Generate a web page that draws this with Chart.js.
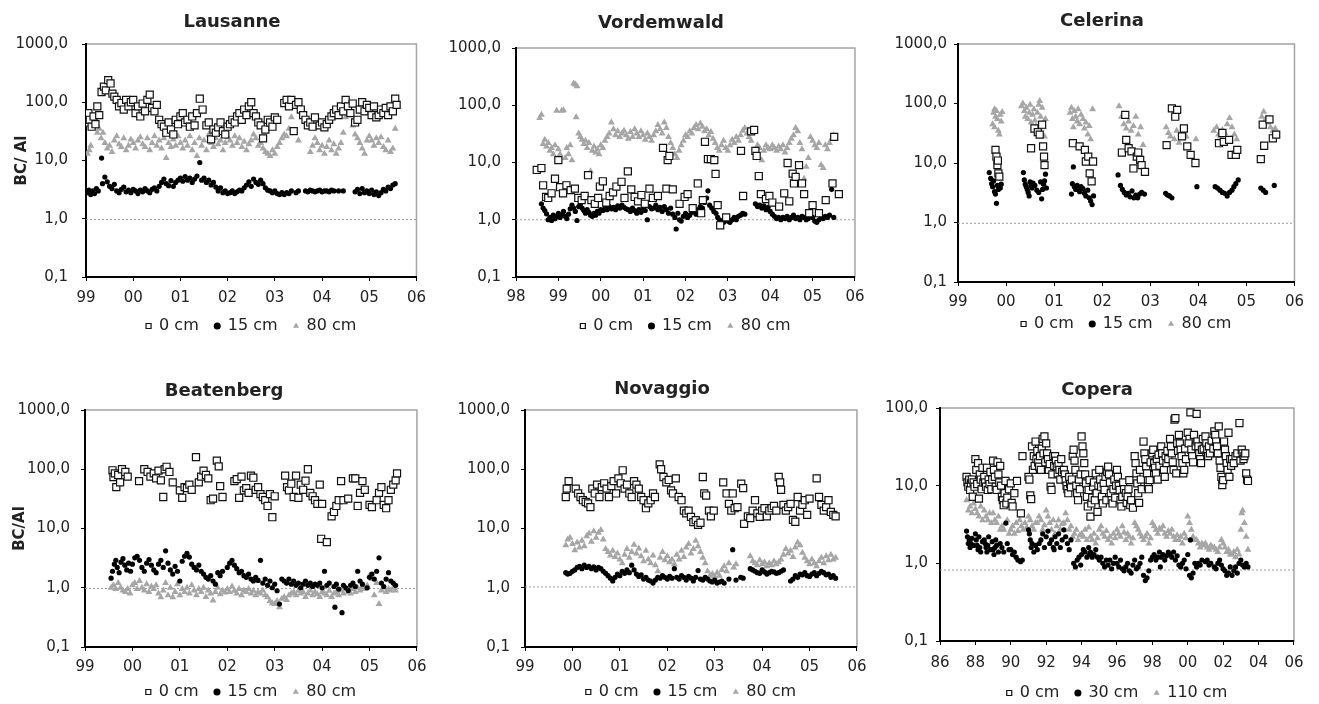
<!DOCTYPE html>
<html>
<head>
<meta charset="utf-8">
<title>BC/Al</title>
<script src="https://cdn.jsdelivr.net/npm/chart.js"></script>
<style>
  body { margin: 0; background: #fff; }
  #page { position: relative; width: 1319px; height: 704px; overflow: hidden; }
  .panel { position: absolute; }
  .panel canvas { display: block; }
  .ttl { position: absolute; width: 200px; text-align: center; font: bold 18px "DejaVu Sans", sans-serif; line-height: 22px; color: #222; }
</style>
</head>
<body>
<div id="page"></div>
<script>
// values: [year (years since 1900), BC/Al]
const lauSq = [[99.02,45],[99.05,65],[99.08,50],[99.12,38],[99.16,57],[99.2,42],[99.24,85],[99.28,60],[99.33,150],[99.38,185],[99.42,160],[99.47,240],[99.52,210],[99.56,140],[99.6,125],[99.65,110],[99.7,85],[99.75,97],[99.8,75],[99.85,110],[99.9,85],[99.95,100],[100.0,110],[100.05,65],[100.1,85],[100.15,57],[100.2,95],[100.25,70],[100.3,110],[100.35,135],[100.4,80],[100.45,70],[100.5,90],[100.55,50],[100.6,42],[100.65,38],[100.7,30],[100.75,45],[100.8,34],[100.85,28],[100.9,50],[100.95,42],[101.0,57],[101.05,65],[101.1,45],[101.15,50],[101.2,38],[101.25,57],[101.3,40],[101.35,65],[101.41,115],[101.47,75],[101.55,40],[101.6,45],[101.65,23],[101.7,34],[101.75,30],[101.8,37],[101.85,45],[101.9,32],[101.95,28],[102.0,38],[102.05,42],[102.1,50],[102.15,45],[102.2,57],[102.25,65],[102.3,50],[102.35,75],[102.4,60],[102.45,85],[102.5,100],[102.55,65],[102.6,57],[102.65,45],[102.7,40],[102.75,24],[102.8,34],[102.85,50],[102.9,45],[102.95,38],[103.0,55],[103.05,50],[103.2,97],[103.25,110],[103.3,85],[103.35,110],[103.4,32],[103.45,90],[103.5,100],[103.55,75],[103.6,60],[103.65,50],[103.7,40],[103.75,45],[103.8,38],[103.85,55],[103.95,40],[104.0,45],[104.05,37],[104.1,42],[104.15,50],[104.2,57],[104.25,65],[104.3,75],[104.35,60],[104.4,85],[104.45,70],[104.5,110],[104.55,85],[104.6,65],[104.65,95],[104.7,45],[104.75,50],[104.8,75],[104.85,100],[104.9,70],[104.95,90],[105.0,80],[105.05,60],[105.1,85],[105.15,55],[105.2,60],[105.25,75],[105.3,65],[105.35,80],[105.4,60],[105.45,85],[105.5,70],[105.55,115],[105.58,90]];
const lauDot = [[99.02,2.8],[99.06,3.1],[99.1,2.6],[99.14,3.0],[99.18,2.7],[99.22,3.3],[99.26,3.0],[99.33,11],[99.35,4.0],[99.4,5.2],[99.45,4.3],[99.5,3.6],[99.55,3.3],[99.6,3.9],[99.65,3.0],[99.7,2.8],[99.75,3.2],[99.8,3.5],[99.85,2.9],[99.9,3.1],[99.95,2.8],[100.0,3.2],[100.05,3.0],[100.1,2.7],[100.15,3.1],[100.2,2.9],[100.25,3.3],[100.3,3.0],[100.35,2.8],[100.4,3.2],[100.45,3.4],[100.5,3.0],[100.55,3.6],[100.6,4.2],[100.65,4.8],[100.7,4.0],[100.75,3.7],[100.8,4.5],[100.85,3.6],[100.9,4.2],[100.95,4.6],[101.0,5.0],[101.05,4.4],[101.1,5.3],[101.15,4.6],[101.2,5.0],[101.25,4.2],[101.3,4.8],[101.35,5.4],[101.41,9.2],[101.45,4.6],[101.5,5.0],[101.55,4.2],[101.6,4.6],[101.65,3.8],[101.7,4.2],[101.75,3.5],[101.8,3.0],[101.85,3.4],[101.9,2.8],[101.95,3.0],[102.0,2.7],[102.05,2.8],[102.1,3.0],[102.15,2.7],[102.2,2.9],[102.25,3.1],[102.3,3.0],[102.35,3.4],[102.4,3.8],[102.45,4.3],[102.5,3.6],[102.55,4.8],[102.6,4.2],[102.65,3.9],[102.7,4.6],[102.75,4.0],[102.8,3.4],[102.85,3.1],[102.9,3.0],[102.95,2.8],[103.0,3.0],[103.05,2.7],[103.1,2.6],[103.15,2.8],[103.2,2.6],[103.25,2.8],[103.3,2.7],[103.35,3.0],[103.45,2.8],[103.5,3.0],[103.65,3.0],[103.7,2.9],[103.75,3.1],[103.8,3.0],[103.85,2.9],[103.9,3.0],[103.95,3.1],[104.0,2.9],[104.05,3.0],[104.1,3.0],[104.15,2.9],[104.2,3.1],[104.25,3.0],[104.35,3.0],[104.45,3.0],[104.7,2.9],[104.75,3.2],[104.8,2.7],[104.85,3.3],[104.9,2.8],[104.95,3.0],[105.0,2.7],[105.05,3.1],[105.1,2.6],[105.15,2.9],[105.2,2.5],[105.25,2.8],[105.3,3.2],[105.35,3.0],[105.4,3.5],[105.45,3.3],[105.5,3.8],[105.55,4.0]];
const lauTri = [[99.03,13],[99.07,15],[99.1,18],[99.13,42],[99.17,45],[99.2,38],[99.24,30],[99.28,35],[99.32,24],[99.36,30],[99.4,20],[99.45,16],[99.5,18],[99.55,14],[99.6,22],[99.65,26],[99.7,19],[99.75,17],[99.8,24],[99.85,15],[99.9,18],[99.95,23],[100.0,20],[100.05,16],[100.1,22],[100.15,25],[100.2,19],[100.25,17],[100.3,24],[100.35,15],[100.4,20],[100.45,26],[100.5,18],[100.55,22],[100.6,16],[100.65,24],[100.7,11],[100.75,20],[100.8,17],[100.85,23],[100.9,18],[100.95,26],[101.0,20],[101.05,16],[101.1,22],[101.15,18],[101.2,26],[101.25,15],[101.3,20],[101.35,12],[101.4,24],[101.45,18],[101.5,22],[101.55,15],[101.6,28],[101.65,20],[101.7,17],[101.75,24],[101.8,19],[101.85,22],[101.9,15],[101.95,20],[102.0,25],[102.05,22],[102.1,18],[102.15,26],[102.2,20],[102.25,24],[102.3,17],[102.35,21],[102.4,15],[102.45,19],[102.5,22],[102.55,28],[102.6,24],[102.65,18],[102.7,20],[102.75,16],[102.8,14],[102.85,13],[102.9,12],[102.95,15],[103.0,13],[103.05,17],[103.1,20],[103.15,24],[103.2,28],[103.25,26],[103.3,35],[103.35,55],[103.4,30],[103.5,22],[103.75,14],[103.8,18],[103.85,24],[103.9,20],[103.95,15],[104.0,18],[104.05,13],[104.1,17],[104.15,22],[104.2,15],[104.25,19],[104.3,13],[104.35,16],[104.4,20],[104.45,30],[104.5,55],[104.55,110],[104.6,90],[104.65,40],[104.7,28],[104.75,24],[104.8,20],[104.85,16],[104.9,13],[104.95,22],[105.0,26],[105.05,22],[105.1,18],[105.15,24],[105.2,20],[105.25,25],[105.3,17],[105.35,15],[105.4,22],[105.45,14],[105.5,16],[105.55,35]];

const vorSq = [[98.49,7.4],[98.6,8],[98.64,4.0],[98.71,2.5],[98.76,2.4],[98.84,2.9],[98.92,5.2],[99.0,11],[99.04,3.7],[99.11,2.9],[99.19,4.0],[99.29,3.3],[99.39,3.5],[99.47,2.4],[99.55,2.2],[99.62,2.6],[99.7,6.0],[99.78,2.2],[99.86,1.9],[99.94,2.4],[99.98,3.8],[100.05,4.7],[100.13,2.0],[100.21,2.6],[100.29,3.0],[100.37,3.8],[100.49,4.6],[100.56,2.4],[100.64,7.0],[100.72,3.4],[100.8,2.5],[100.88,2.1],[100.96,2.7],[101.04,1.9],[101.15,3.5],[101.23,2.4],[101.35,2.6],[101.47,18],[101.55,3.5],[101.58,11],[101.62,13],[101.7,3.4],[101.86,1.9],[101.98,2.5],[102.05,2.8],[102.17,1.6],[102.29,4.3],[102.37,1.3],[102.41,2.2],[102.46,23],[102.53,11.5],[102.6,11.5],[102.68,11],[102.71,6.3],[102.76,1.8],[102.82,0.8],[102.96,1.1],[103.31,16],[103.36,2.6],[103.55,35],[103.62,37],[103.65,16],[103.68,13],[103.73,5.8],[103.78,2.8],[103.9,2.3],[103.98,2.6],[104.05,2.0],[104.21,1.7],[104.33,2.9],[104.41,9.8],[104.45,2.1],[104.53,6.4],[104.56,4.3],[104.6,5.6],[104.68,9.0],[104.75,4.3],[104.8,2.8],[104.92,1.3],[105.0,1.8],[105.15,1.3],[105.31,2.2],[105.47,4.3],[105.51,28],[105.62,2.8]];
const vorDot = [[98.6,1.9],[98.64,1.6],[98.68,1.45],[98.72,1.27],[98.76,1.0],[98.8,1.1],[98.84,0.97],[98.88,1.2],[98.92,1.04],[98.96,1.15],[99.0,1.3],[99.04,1.1],[99.08,1.2],[99.12,1.4],[99.16,1.15],[99.2,1.05],[99.24,1.25],[99.28,1.55],[99.32,1.8],[99.36,1.6],[99.4,1.4],[99.44,0.97],[99.48,1.7],[99.52,1.9],[99.56,1.6],[99.6,1.45],[99.64,1.3],[99.68,1.5],[99.72,1.35],[99.76,1.2],[99.8,1.15],[99.84,1.3],[99.88,1.2],[99.92,1.4],[99.96,1.3],[100.0,1.5],[100.05,1.45],[100.1,1.6],[100.15,1.5],[100.2,1.7],[100.25,1.55],[100.3,1.65],[100.35,1.5],[100.4,1.75],[100.45,1.6],[100.5,1.8],[100.55,1.65],[100.6,1.55],[100.65,1.5],[100.7,1.4],[100.75,1.6],[100.8,1.45],[100.85,1.3],[100.9,1.5],[100.95,1.35],[101.0,1.6],[101.05,1.45],[101.1,1.0],[101.15,1.7],[101.2,1.55],[101.25,1.6],[101.3,1.8],[101.35,1.5],[101.4,1.65],[101.45,1.4],[101.5,1.7],[101.55,1.5],[101.6,1.3],[101.65,1.6],[101.7,1.25],[101.75,1.1],[101.78,0.69],[101.82,1.3],[101.86,1.0],[101.9,0.95],[101.95,1.15],[102.0,1.3],[102.05,1.1],[102.1,1.2],[102.15,1.35],[102.2,1.4],[102.25,1.25],[102.3,1.5],[102.35,1.7],[102.4,1.6],[102.45,2.0],[102.5,2.4],[102.53,3.2],[102.57,1.8],[102.62,1.6],[102.67,1.4],[102.72,1.3],[102.76,1.1],[102.8,1.0],[102.85,0.95],[102.9,0.9],[102.95,1.05],[103.0,0.95],[103.05,0.9],[103.1,1.0],[103.15,1.1],[103.2,1.0],[103.25,1.15],[103.3,1.2],[103.35,1.3],[103.4,1.25],[103.65,1.9],[103.7,1.7],[103.75,1.8],[103.8,1.6],[103.85,1.75],[103.9,1.5],[103.95,1.65],[104.0,1.4],[104.05,1.25],[104.1,1.15],[104.15,1.05],[104.2,1.1],[104.25,1.0],[104.3,1.1],[104.35,1.05],[104.4,1.15],[104.45,1.0],[104.5,1.1],[104.55,1.2],[104.6,1.05],[104.65,1.1],[104.7,1.0],[104.75,1.15],[104.8,1.1],[104.85,1.0],[104.9,1.05],[104.95,1.2],[105.0,1.1],[105.05,0.95],[105.1,0.9],[105.15,1.0],[105.2,1.1],[105.25,1.05],[105.3,1.15],[105.35,1.1],[105.4,1.2],[105.45,3.4],[105.5,1.1]];
const vorTri = [[98.56,60],[98.6,68],[98.64,21],[98.68,25],[98.72,19],[98.76,22],[98.8,16],[98.84,18],[98.88,14],[98.92,20],[98.96,80],[99.0,17],[99.04,14],[99.08,80],[99.12,82],[99.16,12],[99.2,18],[99.24,14],[99.28,20],[99.32,11],[99.36,240],[99.4,230],[99.44,215],[99.42,62],[99.48,32],[99.52,28],[99.56,25],[99.6,21],[99.64,24],[99.68,18],[99.72,22],[99.76,7],[99.8,16],[99.84,19],[99.88,15],[99.92,17],[99.96,14],[100.0,20],[100.05,18],[100.1,24],[100.15,28],[100.2,32],[100.25,50],[100.3,38],[100.35,30],[100.4,35],[100.45,28],[100.5,32],[100.55,36],[100.6,30],[100.65,26],[100.7,34],[100.75,28],[100.8,38],[100.85,32],[100.9,28],[100.95,35],[101.0,30],[101.05,25],[101.1,32],[101.15,28],[101.2,24],[101.25,30],[101.3,35],[101.35,45],[101.4,38],[101.45,32],[101.5,50],[101.55,40],[101.6,28],[101.65,22],[101.7,18],[101.75,14],[101.8,12],[101.85,16],[101.9,20],[101.95,24],[102.0,30],[102.05,28],[102.1,35],[102.15,32],[102.2,40],[102.25,45],[102.3,38],[102.35,48],[102.4,42],[102.45,35],[102.5,38],[102.55,30],[102.6,34],[102.65,26],[102.7,22],[102.75,18],[102.8,16],[102.85,20],[102.9,24],[102.95,18],[103.0,16],[103.05,20],[103.1,25],[103.15,22],[103.2,28],[103.25,24],[103.3,30],[103.35,36],[103.4,40],[103.45,32],[103.5,28],[103.55,24],[103.7,20],[103.75,18],[103.8,11],[103.85,16],[103.9,20],[103.95,18],[104.0,17],[104.05,20],[104.1,18],[104.15,16],[104.2,19],[104.25,17],[104.3,20],[104.35,15],[104.4,18],[104.45,22],[104.5,26],[104.55,30],[104.6,40],[104.65,35],[104.7,22],[104.75,17],[104.8,5.2],[104.85,8.4],[104.9,12],[104.95,28],[105.0,24],[105.05,20],[105.1,18],[105.15,22],[105.2,9],[105.25,8],[105.3,20],[105.35,17],[105.4,22],[105.45,26],[105.5,30]];

const celSq = [[99.78,16.6],[99.8,12.8],[99.82,9.2],[99.84,6.7],[99.86,5.9],[99.83,11],[100.52,17.7],[100.59,38],[100.66,33],[100.7,30],[100.75,44],[100.77,19],[100.79,12.8],[100.8,9.2],[101.39,21.5],[101.53,19],[101.64,16.6],[101.66,10.6],[101.71,12.8],[101.74,6.7],[101.78,4.9],[101.81,10.6],[102.41,15],[102.48,64.5],[102.5,24.5],[102.55,17.7],[102.61,15.7],[102.65,8.1],[102.72,12.8],[102.75,15],[102.79,11.3],[102.82,9.2],[102.89,7.1],[103.34,20],[103.45,83],[103.52,60],[103.56,78],[103.66,28],[103.7,38],[103.77,19],[103.84,13.7],[103.94,10],[104.43,21.5],[104.5,32],[104.53,22.7],[104.64,24.5],[104.69,13.7],[104.78,13.7],[104.81,16.6],[105.3,11.6],[105.34,44],[105.37,19.5],[105.48,54],[105.55,26],[105.62,30]];
const celDot = [[99.65,6.9],[99.68,5.5],[99.7,4.5],[99.72,4.0],[99.74,5.0],[99.76,3.3],[99.78,3.0],[99.8,2.1],[99.82,4.2],[99.84,3.6],[99.86,4.0],[99.88,3.8],[99.9,4.4],[100.36,6.9],[100.38,5.2],[100.4,4.4],[100.42,4.0],[100.44,3.6],[100.46,3.2],[100.48,2.8],[100.5,4.8],[100.52,4.2],[100.54,3.8],[100.56,4.6],[100.6,4.2],[100.64,3.5],[100.68,3.2],[100.72,4.8],[100.74,2.5],[100.76,3.6],[100.78,4.4],[100.8,5.0],[100.82,6.5],[100.84,3.8],[101.36,3.0],[101.38,4.5],[101.4,8.6],[101.42,4.0],[101.45,3.6],[101.48,4.2],[101.5,3.8],[101.53,3.3],[101.56,4.0],[101.6,3.7],[101.63,3.1],[101.66,2.8],[101.7,3.5],[101.73,2.6],[101.76,2.3],[101.79,2.0],[101.82,2.8],[102.33,6.3],[102.38,4.2],[102.42,3.6],[102.46,3.2],[102.5,2.9],[102.54,3.1],[102.58,2.7],[102.62,3.4],[102.66,2.6],[102.7,2.9],[102.74,2.6],[102.78,3.0],[102.82,3.2],[102.88,3.0],[103.32,3.1],[103.36,2.9],[103.4,2.8],[103.45,2.6],[103.97,4.0],[104.35,4.0],[104.4,3.8],[104.45,3.5],[104.5,3.2],[104.55,3.1],[104.6,2.8],[104.65,3.2],[104.7,3.5],[104.74,4.0],[104.78,4.5],[104.83,5.2],[105.3,3.8],[105.35,3.5],[105.4,3.2],[105.58,4.2]];
const celTri = [[99.72,45],[99.74,70],[99.76,80],[99.78,60],[99.8,75],[99.82,55],[99.84,35],[99.86,30],[99.88,65],[99.9,50],[99.92,72],[99.76,40],[100.32,90],[100.35,100],[100.38,75],[100.4,60],[100.42,85],[100.45,55],[100.48,70],[100.5,95],[100.52,48],[100.55,65],[100.58,80],[100.6,52],[100.62,42],[100.65,70],[100.68,95],[100.7,110],[100.72,60],[100.75,85],[100.78,40],[100.8,28],[100.82,55],[101.33,70],[101.36,85],[101.38,55],[101.4,40],[101.42,75],[101.45,60],[101.48,50],[101.5,80],[101.53,45],[101.56,65],[101.6,55],[101.63,38],[101.66,48],[101.7,30],[101.73,42],[101.76,25],[101.8,80],[102.35,90],[102.4,60],[102.45,45],[102.5,38],[102.55,50],[102.6,35],[102.65,42],[102.7,60],[102.75,30],[102.8,40],[102.85,20],[103.33,40],[103.38,32],[103.42,28],[103.5,25],[103.55,35],[103.6,22],[103.65,30],[103.75,28],[103.95,25],[104.32,35],[104.38,40],[104.42,30],[104.46,28],[104.5,36],[104.55,32],[104.6,45],[104.65,57],[104.7,40],[104.75,30],[104.8,25],[105.32,60],[105.36,73],[105.4,55],[105.45,48],[105.5,40],[105.55,35],[105.6,38]];

const beaSq = [[99.58,96],[99.6,74],[99.63,85],[99.66,50],[99.7,80],[99.74,60],[99.78,100],[99.85,90],[99.9,75],[100.14,63],[100.25,100],[100.32,90],[100.38,75],[100.45,85],[100.5,70],[100.55,95],[100.6,65],[100.65,34],[100.68,100],[100.72,110],[100.78,90],[100.85,60],[101.0,44],[101.05,33],[101.1,50],[101.15,48],[101.2,55],[101.25,45],[101.34,160],[101.4,60],[101.45,75],[101.5,95],[101.55,80],[101.6,70],[101.65,30],[101.7,32],[101.78,140],[101.82,112],[101.85,52],[101.9,34],[102.15,63],[102.2,68],[102.25,33],[102.3,75],[102.35,44],[102.4,48],[102.45,40],[102.5,78],[102.55,72],[102.6,45],[102.65,50],[102.7,38],[102.75,34],[102.8,30],[102.85,24],[102.9,38],[102.95,15.5],[103.0,35],[103.22,78],[103.26,50],[103.3,44],[103.35,57],[103.4,34],[103.45,78],[103.5,33],[103.55,55],[103.6,45],[103.65,64],[103.7,100],[103.75,40],[103.8,35],[103.85,30],[103.9,26],[103.95,55],[104.0,26],[103.98,6.7],[104.1,5.9],[104.2,16],[104.25,19],[104.3,24],[104.35,30],[104.4,63],[104.45,30],[104.55,32],[104.65,70],[104.7,70],[104.75,24],[104.8,40],[104.85,63],[104.9,45],[105.0,25],[105.05,23],[105.15,30],[105.2,40],[105.25,50],[105.3,25],[105.35,22],[105.4,30],[105.45,45],[105.5,55],[105.55,65],[105.58,85]];
const beaDot = [[99.55,1.45],[99.58,1.9],[99.62,2.5],[99.65,2.9],[99.68,2.2],[99.72,1.8],[99.76,2.7],[99.8,3.1],[99.84,2.4],[99.88,2.0],[99.92,2.6],[99.96,1.9],[100.0,2.5],[100.05,3.2],[100.1,3.4],[100.15,2.9],[100.2,2.2],[100.25,1.9],[100.3,2.6],[100.35,3.0],[100.4,2.4],[100.45,2.0],[100.5,1.8],[100.55,2.5],[100.6,2.9],[100.65,2.2],[100.7,4.2],[100.75,2.6],[100.8,2.0],[100.85,1.7],[100.9,2.3],[100.95,1.9],[101.0,1.3],[101.05,2.8],[101.1,3.4],[101.15,3.8],[101.2,3.3],[101.25,2.5],[101.3,2.2],[101.35,2.0],[101.4,2.4],[101.45,1.9],[101.5,1.7],[101.55,1.5],[101.6,1.4],[101.65,1.6],[101.7,1.3],[101.75,1.15],[101.8,1.8],[101.85,1.6],[101.9,1.9],[102.0,2.2],[102.05,2.6],[102.1,2.9],[102.15,2.4],[102.2,2.1],[102.25,1.8],[102.3,1.9],[102.35,1.6],[102.4,1.5],[102.45,1.7],[102.5,1.4],[102.55,1.3],[102.6,1.5],[102.65,1.33],[102.7,2.9],[102.75,1.2],[102.8,1.4],[102.85,1.1],[102.9,1.3],[102.95,1.0],[103.0,1.15],[103.05,0.89],[103.1,0.53],[103.15,1.4],[103.2,1.3],[103.25,1.2],[103.3,1.4],[103.35,1.15],[103.4,1.3],[103.45,1.1],[103.5,1.2],[103.55,1.0],[103.6,1.15],[103.65,1.3],[103.7,1.1],[103.75,1.2],[103.8,1.05],[103.85,1.15],[103.9,1.1],[103.95,1.2],[104.0,1.0],[104.05,1.9],[104.1,1.1],[104.15,1.2],[104.27,0.47],[104.25,1.05],[104.3,1.15],[104.35,0.95],[104.42,0.38],[104.45,1.1],[104.5,1.0],[104.55,0.9],[104.6,1.1],[104.65,1.2],[104.7,1.05],[104.75,1.9],[104.8,1.3],[104.85,1.15],[104.95,1.0],[105.0,1.5],[105.05,1.7],[105.1,1.4],[105.15,1.9],[105.2,3.2],[105.25,1.2],[105.3,1.05],[105.35,1.4],[105.4,1.8],[105.45,1.3],[105.5,1.2],[105.55,1.1]];
const beaTri = [[99.55,1.0],[99.6,1.1],[99.65,0.95],[99.7,1.2],[99.75,1.0],[99.8,0.9],[99.85,0.85],[99.9,0.95],[99.95,0.8],[100.0,1.1],[100.05,1.2],[100.1,0.95],[100.15,1.3],[100.2,1.0],[100.25,0.9],[100.3,1.15],[100.35,0.85],[100.4,1.05],[100.45,0.95],[100.5,1.1],[100.55,0.8],[100.6,0.69],[100.65,0.9],[100.7,1.2],[100.75,0.75],[100.8,1.0],[100.85,0.69],[100.9,0.85],[100.95,1.15],[101.0,0.75],[101.05,0.95],[101.1,0.85],[101.15,1.0],[101.2,0.8],[101.25,1.1],[101.3,0.9],[101.35,0.75],[101.4,0.95],[101.45,0.85],[101.5,1.0],[101.55,0.7],[101.6,0.9],[101.65,0.8],[101.7,0.61],[101.75,0.85],[101.8,1.0],[101.85,0.78],[101.9,0.9],[101.95,0.83],[102.0,0.95],[102.05,0.85],[102.1,1.05],[102.15,0.89],[102.2,0.8],[102.25,0.95],[102.3,0.75],[102.35,0.9],[102.4,0.85],[102.45,0.95],[102.5,0.8],[102.55,0.89],[102.6,0.75],[102.65,0.85],[102.7,0.8],[102.75,0.9],[102.8,0.75],[102.85,0.69],[102.9,0.6],[102.95,0.55],[103.0,0.53],[103.05,0.6],[103.1,0.47],[103.15,0.65],[103.2,0.7],[103.25,0.62],[103.3,0.75],[103.35,0.8],[103.4,0.85],[103.45,0.75],[103.5,0.89],[103.55,0.8],[103.6,0.85],[103.65,0.7],[103.7,0.8],[103.75,0.9],[103.8,0.75],[103.85,0.85],[103.9,0.78],[103.95,0.7],[104.0,0.85],[104.05,0.8],[104.1,0.75],[104.15,0.89],[104.2,0.7],[104.25,0.8],[104.3,0.85],[104.35,0.75],[104.4,0.9],[104.45,0.8],[104.5,0.95],[104.55,0.85],[104.6,0.8],[104.65,0.95],[104.7,0.85],[104.75,1.0],[104.8,0.9],[104.85,1.05],[104.9,0.95],[104.95,1.1],[105.0,1.6],[105.05,1.4],[105.1,0.75],[105.15,1.2],[105.2,0.53],[105.25,0.9],[105.3,1.0],[105.35,0.85],[105.4,0.95],[105.45,0.9],[105.5,1.0],[105.55,0.9]];

const novSq = [[99.86,34],[99.88,47],[99.92,63],[100.07,47],[100.12,39],[100.17,34],[100.22,30],[100.28,28],[100.33,26.5],[100.38,23],[100.42,47],[100.47,39],[100.52,55],[100.57,34],[100.62,50],[100.67,58],[100.72,47],[100.77,34],[100.82,52],[100.87,63],[100.92,39],[100.97,70],[101.02,58],[101.06,96],[101.1,47],[101.15,55],[101.2,39],[101.25,34],[101.3,63],[101.35,55],[101.4,47],[101.45,34],[101.5,30],[101.55,22],[101.6,26.5],[101.65,30],[101.7,39],[101.74,34],[101.84,121],[101.87,100],[101.92,74],[101.98,60],[102.03,66],[102.08,44],[102.12,39],[102.18,70],[102.24,34],[102.3,30],[102.35,20],[102.4,18],[102.45,20],[102.5,15.7],[102.55,12.8],[102.6,13.8],[102.65,11.5],[102.7,12.5],[102.75,74],[102.78,39],[102.82,36],[102.88,20],[102.92,16],[102.98,20],[103.18,60],[103.25,39],[103.3,26],[103.35,20],[103.38,39],[103.42,22],[103.48,23],[103.56,57],[103.6,48],[103.62,12],[103.7,16],[103.75,15],[103.8,20],[103.85,30],[103.9,18],[103.95,15.7],[104.0,20],[104.05,22],[104.1,16],[104.15,20],[104.2,22],[104.25,24],[104.3,20],[104.35,74],[104.38,60],[104.4,45],[104.45,25],[104.5,20],[104.55,23],[104.6,26],[104.65,14],[104.7,13],[104.75,34],[104.8,20],[104.85,25],[104.9,30],[104.95,17],[105.0,32],[105.15,70],[105.2,34],[105.25,25],[105.3,20],[105.35,23],[105.4,30],[105.45,19],[105.5,17],[105.55,16]];
const novDot = [[99.86,1.8],[99.9,1.7],[99.95,1.75],[100.0,1.9],[100.05,2.0],[100.1,2.2],[100.15,2.3],[100.2,2.1],[100.25,2.4],[100.3,2.2],[100.35,2.3],[100.4,2.1],[100.45,2.25],[100.5,2.0],[100.55,2.2],[100.6,2.1],[100.65,1.9],[100.7,1.75],[100.75,1.6],[100.8,1.45],[100.85,1.3],[100.9,1.5],[100.95,1.7],[101.0,1.6],[101.05,1.9],[101.1,1.75],[101.15,2.0],[101.2,1.8],[101.25,2.4],[101.3,2.0],[101.35,1.7],[101.4,1.55],[101.45,1.65],[101.5,1.4],[101.55,1.5],[101.6,1.35],[101.65,1.3],[101.7,1.2],[101.75,1.35],[101.8,1.5],[101.85,1.45],[101.9,1.6],[101.95,1.5],[102.0,1.4],[102.05,1.55],[102.1,1.45],[102.15,2.1],[102.2,1.5],[102.25,1.4],[102.3,1.6],[102.35,1.5],[102.4,1.35],[102.45,1.55],[102.5,1.45],[102.55,1.3],[102.6,1.5],[102.65,1.95],[102.7,1.4],[102.75,1.35],[102.8,1.5],[102.85,1.4],[102.9,1.3],[102.95,1.25],[103.0,1.35],[103.05,1.2],[103.1,1.25],[103.15,1.3],[103.2,1.2],[103.3,1.4],[103.38,4.4],[103.45,1.35],[103.55,1.5],[103.6,1.45],[103.75,2.1],[103.8,2.0],[103.85,1.9],[103.9,1.8],[103.95,1.75],[104.0,2.0],[104.05,1.85],[104.1,1.7],[104.15,1.8],[104.2,1.9],[104.25,1.85],[104.3,1.75],[104.35,1.8],[104.4,1.9],[104.45,2.0],[104.6,1.3],[104.65,1.4],[104.7,1.6],[104.75,1.5],[104.8,1.7],[104.85,1.65],[104.9,1.8],[104.95,1.6],[105.0,1.55],[105.05,1.7],[105.1,1.8],[105.15,1.6],[105.2,1.75],[105.25,1.9],[105.3,1.8],[105.35,1.65],[105.4,1.7],[105.45,1.5],[105.5,1.6],[105.55,1.45]];
const novTri = [[99.86,5.2],[99.9,6.5],[99.95,7.0],[100.0,5.5],[100.05,4.3],[100.1,5.8],[100.15,4.8],[100.2,6.2],[100.25,5.0],[100.3,7.4],[100.35,8.2],[100.4,6.0],[100.45,9.0],[100.5,7.0],[100.55,8.5],[100.6,9.4],[100.65,6.5],[100.7,4.5],[100.75,4.0],[100.8,3.5],[100.85,4.2],[100.9,3.3],[100.95,3.8],[101.0,3.0],[101.05,2.6],[101.1,3.6],[101.15,4.5],[101.2,3.2],[101.25,4.0],[101.3,5.3],[101.35,3.8],[101.4,4.6],[101.45,3.4],[101.5,2.8],[101.55,4.2],[101.6,3.0],[101.65,2.6],[101.7,3.5],[101.75,2.4],[101.8,1.9],[101.85,3.2],[101.9,4.0],[101.95,2.9],[102.0,3.4],[102.05,2.7],[102.1,3.0],[102.15,2.5],[102.2,3.6],[102.25,3.0],[102.3,4.2],[102.35,3.3],[102.4,4.8],[102.45,5.5],[102.5,3.8],[102.55,4.5],[102.6,6.2],[102.65,5.0],[102.7,4.0],[102.75,3.2],[102.8,2.6],[102.85,1.9],[102.9,1.6],[102.95,1.7],[103.0,1.55],[103.05,1.8],[103.1,1.6],[103.15,2.0],[103.2,2.3],[103.25,1.9],[103.3,2.6],[103.4,2.2],[103.45,2.5],[103.75,3.4],[103.8,2.8],[103.85,2.6],[103.9,2.4],[103.95,2.9],[104.0,2.5],[104.05,2.7],[104.1,2.3],[104.15,2.6],[104.2,2.4],[104.25,2.8],[104.3,2.5],[104.35,2.7],[104.4,3.0],[104.45,3.6],[104.5,4.5],[104.55,3.8],[104.6,4.2],[104.65,3.3],[104.7,4.8],[104.75,5.8],[104.8,5.2],[104.85,3.9],[104.9,3.2],[104.95,2.8],[105.0,2.5],[105.05,3.0],[105.1,2.6],[105.15,2.3],[105.2,2.8],[105.25,3.2],[105.3,2.6],[105.35,3.4],[105.4,2.9],[105.45,3.6],[105.5,3.0],[105.55,3.2]];

const copSq = [[87.5,13],[87.55,11],[87.6,9.7],[87.65,12],[87.7,8.8],[87.75,10.7],[87.8,12],[87.85,7.2],[87.9,11],[87.95,9.7],[88.0,22],[88.05,16],[88.1,10.5],[88.15,19.5],[88.2,6.8],[88.25,14],[88.3,12],[88.35,9],[88.4,17],[88.45,11],[88.5,13],[88.55,11],[88.6,9.7],[88.65,17],[88.7,8.8],[88.75,12],[88.8,10.5],[88.85,15],[88.9,9],[88.95,12],[89.0,21],[89.05,16],[89.1,13],[89.15,9.7],[89.2,8.8],[89.25,20],[89.3,14],[89.35,11],[89.4,18],[89.45,10],[89.5,7.2],[89.55,6.5],[89.6,5.6],[89.65,8],[89.7,11.5],[89.75,5.9],[89.8,7],[89.9,9],[90.0,10.7],[90.05,6],[90.1,5.4],[90.2,8],[90.35,11.5],[90.57,4.4],[90.66,24],[91.0,13],[91.05,12],[91.1,7.5],[91.15,6.7],[91.2,32],[91.25,16],[91.3,24],[91.35,18],[91.4,37],[91.45,22],[91.5,28],[91.55,20],[91.6,17.6],[91.65,24],[91.7,16],[91.75,30],[91.8,40],[91.85,26],[91.9,43],[91.95,20],[92.0,35],[92.05,26],[92.1,22],[92.15,16],[92.2,19],[92.25,9.7],[92.3,8.8],[92.35,14],[92.4,24],[92.45,18],[92.5,24],[92.55,21],[92.6,17.6],[92.65,14.4],[92.7,19],[92.75,16],[92.8,12],[92.85,22],[92.9,15],[93.0,16],[93.05,14],[93.1,11.8],[93.15,10],[93.2,9],[93.25,8],[93.3,13],[93.35,10.5],[93.4,9.5],[93.45,12],[93.5,24],[93.55,29],[93.6,21],[93.65,16],[93.7,10],[93.75,8],[93.8,6.5],[93.85,12],[93.9,9],[93.95,14],[94.0,43],[94.05,32],[94.1,26],[94.15,19.5],[94.2,14],[94.25,10.7],[94.3,7.2],[94.35,5.4],[94.4,8.8],[94.45,11.8],[94.5,4.0],[94.55,5.9],[94.6,7],[94.65,9.7],[94.7,11],[94.75,6.5],[94.8,14.4],[94.85,8],[94.9,4.6],[94.95,10],[95.0,16],[95.05,12],[95.1,9.7],[95.15,7.2],[95.2,5.9],[95.25,10.7],[95.3,8.8],[95.35,13],[95.4,6.5],[95.45,15],[95.5,17.6],[95.55,14],[95.6,11],[95.65,8],[95.7,6.5],[95.75,5.9],[95.8,9],[95.85,12],[95.9,7],[95.95,10],[96.0,16],[96.05,13],[96.1,10],[96.15,8.8],[96.2,6.5],[96.25,5.4],[96.3,7.2],[96.35,11],[96.4,9],[96.5,8],[96.55,6],[96.6,7.2],[96.65,9],[96.7,11.8],[96.75,5.6],[96.8,6.5],[96.9,5.2],[97.0,24],[97.05,19.5],[97.1,14.4],[97.15,10.7],[97.2,8],[97.25,6],[97.3,16],[97.35,12],[97.4,9],[97.5,37],[97.55,26],[97.6,22],[97.65,17.6],[97.7,14.4],[97.75,9.7],[97.8,9],[97.85,11.8],[97.9,20],[98.0,26],[98.05,29],[98.1,19.5],[98.15,17],[98.2,14.4],[98.25,22],[98.3,12],[98.35,25],[98.4,18],[98.5,32],[98.55,26],[98.6,21],[98.65,16],[98.7,13],[98.75,24],[98.8,19.5],[98.85,28],[98.9,22],[99.0,40],[99.05,32],[99.1,26],[99.15,20],[99.2,16],[99.25,71],[99.3,74],[99.35,14.4],[99.4,35],[99.45,28],[99.5,45],[99.55,35],[99.6,29],[99.65,24],[99.7,19.5],[99.75,14.4],[99.8,16],[99.85,30],[99.9,22],[100.0,48],[100.15,88],[100.1,40],[100.05,35],[100.2,29],[100.25,24],[100.3,20],[100.35,45],[100.5,84],[100.45,32],[100.55,37],[100.6,32],[100.65,26],[100.7,22],[100.75,19.5],[100.8,29],[100.85,40],[100.9,30],[101.0,43],[101.05,35],[101.1,29],[101.15,24],[101.2,32],[101.25,26],[101.35,38],[101.45,30],[101.5,50],[101.55,45],[101.6,37],[101.65,32],[101.7,26],[101.75,58],[101.8,21],[101.85,17],[101.9,13],[101.95,10.2],[102.0,11.8],[102.05,37],[102.1,29],[102.15,24],[102.2,19.5],[102.25,16],[102.3,48],[102.35,13],[102.4,22],[102.45,18],[102.5,22],[102.6,19.5],[102.7,24],[102.8,26],[102.92,64],[102.98,21],[103.05,29],[103.1,26],[103.15,22],[103.2,24],[103.25,26],[103.3,14.4],[103.35,12],[103.4,11.5]];
const copDot = [[87.5,2.6],[87.55,2.2],[87.6,1.8],[87.65,2.0],[87.7,1.6],[87.75,1.8],[87.8,2.1],[87.9,1.7],[88.0,2.4],[88.05,2.0],[88.1,1.7],[88.15,1.5],[88.2,2.2],[88.25,1.6],[88.3,1.4],[88.4,1.9],[88.5,2.0],[88.55,1.8],[88.6,1.6],[88.65,1.4],[88.7,1.7],[88.75,2.2],[88.85,1.5],[88.95,1.9],[89.0,1.5],[89.05,1.3],[89.1,1.6],[89.15,2.0],[89.2,1.7],[89.3,1.4],[89.4,1.8],[89.5,1.6],[89.6,1.4],[89.72,3.3],[89.8,1.8],[89.9,1.5],[90.0,1.5],[90.1,1.3],[90.2,1.4],[90.3,1.2],[90.4,1.1],[90.55,1.05],[90.65,1.1],[91.0,2.7],[91.05,2.4],[91.1,2.0],[91.15,1.6],[91.2,1.8],[91.3,1.4],[91.4,1.7],[91.5,1.5],[91.6,1.8],[91.7,2.0],[91.8,2.4],[91.9,1.6],[92.0,2.2],[92.1,2.6],[92.2,1.8],[92.3,2.0],[92.4,1.6],[92.45,1.5],[92.5,2.2],[92.6,1.8],[92.7,2.4],[92.8,1.6],[92.9,2.0],[93.0,2.7],[93.1,2.2],[93.2,1.8],[93.3,1.5],[93.4,2.0],[93.55,1.0],[93.65,0.9],[93.75,1.1],[93.85,1.2],[93.95,0.95],[94.0,1.3],[94.1,1.5],[94.2,1.4],[94.3,1.2],[94.4,1.6],[94.45,1.3],[94.5,1.4],[94.6,1.2],[94.7,1.3],[94.8,1.5],[94.9,1.2],[95.0,1.1],[95.1,1.2],[95.2,1.0],[95.3,0.9],[95.4,1.1],[95.5,0.95],[95.6,1.1],[95.7,0.85],[95.8,1.0],[95.9,1.2],[96.0,1.0],[96.1,0.9],[96.2,1.1],[96.3,0.85],[96.4,0.8],[96.5,0.9],[96.6,1.0],[96.7,0.8],[96.8,0.75],[96.9,0.95],[97.0,1.1],[97.1,0.85],[97.2,0.9],[97.3,1.0],[97.4,1.2],[97.5,0.7],[97.6,0.6],[97.7,0.65],[97.8,0.8],[97.9,1.1],[98.0,1.2],[98.1,1.3],[98.2,1.1],[98.3,1.2],[98.4,1.4],[98.45,0.9],[98.5,1.2],[98.6,1.3],[98.7,1.1],[98.8,1.25],[98.9,1.4],[99.0,1.3],[99.1,1.2],[99.2,1.4],[99.3,1.1],[99.4,1.25],[99.5,0.95],[99.6,0.9],[99.7,1.0],[99.8,1.1],[99.9,0.85],[100.0,1.3],[100.1,0.7],[100.15,2.0],[100.2,0.65],[100.3,0.75],[100.4,1.0],[100.5,0.9],[100.6,1.0],[100.7,0.95],[100.8,1.1],[101.0,1.05],[101.1,1.1],[101.2,0.95],[101.3,1.0],[101.5,0.9],[101.6,0.85],[101.7,1.0],[101.8,1.1],[101.9,0.95],[102.0,0.85],[102.1,0.8],[102.2,0.7],[102.3,0.75],[102.4,0.9],[102.5,0.7],[102.6,0.8],[102.7,0.9],[102.8,0.75],[102.9,1.0],[103.0,1.1],[103.1,0.95],[103.2,0.9],[103.3,1.0],[103.4,0.9]];
const copTri = [[87.5,6.5],[87.6,4.8],[87.7,5.4],[87.8,4.4],[87.9,5.9],[88.0,5.0],[88.1,4.4],[88.2,4.0],[88.3,5.4],[88.4,3.6],[88.5,4.8],[88.6,4.0],[88.7,3.6],[88.8,4.4],[88.9,3.3],[89.0,4.4],[89.1,3.6],[89.2,3.3],[89.3,4.0],[89.4,2.7],[89.5,3.0],[89.6,2.7],[89.7,3.3],[89.8,3.6],[89.9,2.4],[90.0,2.7],[90.1,3.0],[90.2,2.4],[90.3,3.3],[90.4,2.6],[90.5,3.6],[90.6,3.0],[90.7,2.7],[90.8,3.3],[90.9,2.9],[91.0,4.0],[91.1,3.6],[91.2,3.0],[91.3,2.7],[91.4,3.3],[91.5,3.3],[91.6,4.0],[91.7,3.6],[91.8,2.7],[91.9,3.1],[92.0,4.8],[92.1,4.0],[92.2,3.3],[92.3,2.7],[92.4,3.6],[92.5,2.4],[92.6,3.0],[92.7,3.6],[92.8,2.7],[92.9,3.2],[93.0,3.3],[93.1,4.4],[93.2,3.6],[93.3,2.7],[93.4,3.0],[93.5,2.2],[93.6,2.4],[93.7,2.7],[93.8,2.0],[93.9,2.3],[94.0,2.4],[94.1,2.2],[94.2,2.7],[94.3,2.0],[94.4,2.9],[94.5,2.2],[94.6,2.0],[94.7,2.4],[94.8,1.8],[94.9,2.1],[95.0,2.7],[95.1,3.0],[95.2,2.4],[95.3,2.2],[95.4,2.6],[95.5,2.0],[95.6,2.2],[95.7,1.8],[95.8,2.4],[95.9,2.1],[96.0,2.7],[96.1,2.4],[96.2,2.2],[96.3,3.0],[96.4,2.5],[96.5,2.0],[96.6,2.4],[96.7,2.2],[96.8,1.8],[96.9,2.1],[97.0,3.3],[97.1,3.0],[97.2,2.7],[97.3,2.4],[97.4,2.2],[97.5,2.0],[97.6,2.2],[97.7,2.4],[97.8,1.8],[97.9,2.1],[98.0,3.3],[98.1,3.0],[98.2,2.7],[98.3,2.4],[98.4,2.8],[98.5,2.7],[98.6,3.0],[98.7,2.4],[98.8,2.2],[98.9,2.6],[99.0,2.4],[99.1,2.7],[99.2,2.2],[99.3,2.0],[99.4,2.3],[99.5,2.0],[99.6,2.2],[99.7,1.8],[99.8,2.4],[99.9,2.1],[100.0,4.0],[100.1,3.3],[100.2,2.7],[100.3,2.2],[100.4,2.0],[100.5,2.0],[100.6,1.8],[100.7,1.6],[100.8,1.8],[100.9,1.7],[101.0,1.8],[101.1,1.6],[101.2,1.5],[101.3,1.7],[101.4,1.6],[101.5,1.6],[101.6,1.5],[101.7,1.4],[101.8,1.6],[101.9,2.0],[102.0,1.8],[102.1,1.6],[102.2,1.4],[102.3,1.5],[102.4,1.3],[102.5,1.3],[102.6,1.4],[102.7,1.2],[102.8,1.5],[102.9,1.3],[103.0,2.7],[103.05,4.4],[103.1,4.8],[103.2,3.3],[103.3,2.2],[103.4,1.5]];

const sites = ['Lausanne', 'Vordemwald', 'Celerina', 'Beatenberg', 'Novaggio', 'Copera'];
const depthsSwiss = ['0 cm', '15 cm', '80 cm'];
const depthsCopera = ['0 cm', '30 cm', '110 cm'];
const yearTicksSwiss = [99, 100, 101, 102, 103, 104, 105, 106];
const yearTicksVord = [98, 99, 100, 101, 102, 103, 104, 105, 106];
const yearTicksCopera = [86, 88, 90, 92, 94, 96, 98, 100, 102, 104, 106];
const yTicksWide = [0.1, 1, 10, 100, 1000];
const yTicksCopera = [0.1, 1, 10, 100];
const refLevels = [0.97, 1.0, 0.97, 0.97, 1.03, 0.82];
const yTitles = ['BC/ Al', '', '', 'BC/Al', '', ''];

const panels = [
  {sq: lauSq, dot: lauDot, tri: lauTri, depths: depthsSwiss, xTicks: yearTicksSwiss,  yTicks: yTicksWide},
  {sq: vorSq, dot: vorDot, tri: vorTri, depths: depthsSwiss, xTicks: yearTicksVord,   yTicks: yTicksWide},
  {sq: celSq, dot: celDot, tri: celTri, depths: depthsSwiss, xTicks: yearTicksSwiss,  yTicks: yTicksWide},
  {sq: beaSq, dot: beaDot, tri: beaTri, depths: depthsSwiss, xTicks: yearTicksSwiss,  yTicks: yTicksWide},
  {sq: novSq, dot: novDot, tri: novTri, depths: depthsSwiss, xTicks: yearTicksSwiss,  yTicks: yTicksWide},
  {sq: copSq, dot: copDot, tri: copTri, depths: depthsCopera, xTicks: yearTicksCopera, yTicks: yTicksCopera}
];

// where each panel sits on the page
const boxes = [
  {left: 0,   top: 0,   plotL: 86,  plotT: 44,  plotR: 418,  plotB: 277, yGap: 14, xPad: 8,   axisH: 25, yTitlePad: 13.5, titleX: 232,  titleY: 21},
  {left: 440, top: 0,   plotL: 516, plotT: 48,  plotR: 856,  plotB: 277, yGap: 11, xPad: 7.5, axisH: 25, yTitlePad: 0,    titleX: 661,  titleY: 22},
  {left: 885, top: 0,   plotL: 958, plotT: 44,  plotR: 1295, plotB: 282, yGap: 7,  xPad: 7,   axisH: 18, yTitlePad: 0,    titleX: 1102, titleY: 20},
  {left: 0,   top: 366, plotL: 85,  plotT: 410, plotR: 418,  plotB: 647, yGap: 11, xPad: 7.5, axisH: 21, yTitlePad: 11.5, titleX: 224,  titleY: 390},
  {left: 440, top: 366, plotL: 525, plotT: 410, plotR: 858,  plotB: 647, yGap: 11, xPad: 7.5, axisH: 21, yTitlePad: 0,    titleX: 662,  titleY: 387.5},
  {left: 877, top: 366, plotL: 940, plotT: 408, plotR: 1297, plotB: 641, yGap: 8,  xPad: 9.5, axisH: 28, yTitlePad: 0,    titleX: 1097, titleY: 388.5}
];
const LEGEND_H = 42;
const RIGHT_PAD = 16;

Chart.defaults.font.family = '"DejaVu Sans", sans-serif';
Chart.defaults.color = '#222';

// gray frame round the plot area; the black axes are drawn over its left and bottom sides
const frame = {
  id: 'frame',
  beforeDraw(chart) {
    const a = chart.chartArea, ctx = chart.ctx;
    ctx.save();
    ctx.strokeStyle = '#a4a4a4';
    ctx.lineWidth = 1.5;
    ctx.strokeRect(a.left, a.top, a.right - a.left, a.bottom - a.top);
    ctx.restore();
  }
};

const toPts = arr => arr.map(([x, y]) => ({x, y}));
const comma = v => v.toFixed(1).replace('.', ',');
const twoDigit = v => String(Math.round(v) % 100).padStart(2, '0');

const page = document.getElementById('page');

panels.forEach((p, i) => {
  const b = boxes[i];
  const w = b.plotR - b.left + RIGHT_PAD;
  const h = b.plotB - b.top + b.axisH + LEGEND_H;
  const xMin = p.xTicks[0], xMax = p.xTicks[p.xTicks.length - 1];

  const div = document.createElement('div');
  div.className = 'panel';
  div.style.left = b.left + 'px';
  div.style.top = b.top + 'px';
  const canvas = document.createElement('canvas');
  canvas.width = w;
  canvas.height = h;
  div.appendChild(canvas);
  page.appendChild(div);

  const ttl = document.createElement('div');
  ttl.className = 'ttl';
  ttl.textContent = sites[i];
  ttl.style.left = (b.titleX - 100) + 'px';
  ttl.style.top = (b.titleY - 11) + 'px';
  page.appendChild(ttl);

  const tickLine = {display: true, drawOnChartArea: false, drawTicks: true, tickLength: 4, color: '#000', lineWidth: 1};
  const axisLine = {display: true, color: '#000', width: 2};

  new Chart(canvas, {
    type: 'scatter',
    data: {
      datasets: [
        {label: p.depths[0], data: toPts(p.sq), pointStyle: 'rect', pointRadius: 5,
         backgroundColor: '#fff', borderColor: '#111', borderWidth: 1.2},
        {label: p.depths[1], data: toPts(p.dot), pointStyle: 'circle', pointRadius: 2.6,
         backgroundColor: '#000', borderColor: '#000', borderWidth: 0},
        {label: p.depths[2], data: toPts(p.tri), pointStyle: 'triangle', pointRadius: 4,
         backgroundColor: '#a6a6a6', borderColor: '#a6a6a6', borderWidth: 0},
        {label: 'ref', data: [{x: xMin, y: refLevels[i]}, {x: xMax, y: refLevels[i]}],
         showLine: true, pointRadius: 0, borderColor: '#9a9a9a', borderWidth: 1, borderDash: [2, 2]}
      ]
    },
    options: {
      responsive: false,
      animation: false,
      devicePixelRatio: 1,
      events: [],
      layout: {padding: {top: b.plotT - b.top, right: RIGHT_PAD, left: 0, bottom: 0}},
      plugins: {
        title: {display: false},
        tooltip: {enabled: false},
        legend: {
          position: 'bottom',
          fullSize: false,
          labels: {
            usePointStyle: true, boxWidth: 5, boxHeight: 5, padding: 16,
            font: {size: 16}, color: '#222',
            filter: item => item.datasetIndex < 3
          }
        }
      },
      scales: {
        x: {
          type: 'linear', min: xMin, max: xMax,
          afterFit: s => {
            s.height = b.axisH;
            // the year labels may hang a little below this short band, so do not clip them to it
            s._computeLabelArea = () => null;
          },
          afterBuildTicks: s => { s.ticks = p.xTicks.map(v => ({value: v})); },
          grid: tickLine,
          border: axisLine,
          ticks: {
            autoSkip: false, maxRotation: 0, minRotation: 0, padding: b.xPad,
            font: {size: 15}, color: '#222',
            callback: v => twoDigit(v)
          }
        },
        y: {
          type: 'logarithmic', min: 0.1, max: p.yTicks[p.yTicks.length - 1],
          afterFit: s => { s.width = b.plotL - b.left; },
          afterBuildTicks: s => { s.ticks = p.yTicks.map(v => ({value: v})); },
          grid: tickLine,
          border: axisLine,
          ticks: {padding: b.yGap, font: {size: 15}, color: '#222', callback: v => comma(v)},
          title: {
            display: yTitles[i] !== '', text: yTitles[i], color: '#222',
            font: {size: 15, weight: 'bold'}, padding: {top: b.yTitlePad, bottom: 0}
          }
        }
      }
    },
    plugins: [frame]
  });
});
</script>
</body>
</html>
